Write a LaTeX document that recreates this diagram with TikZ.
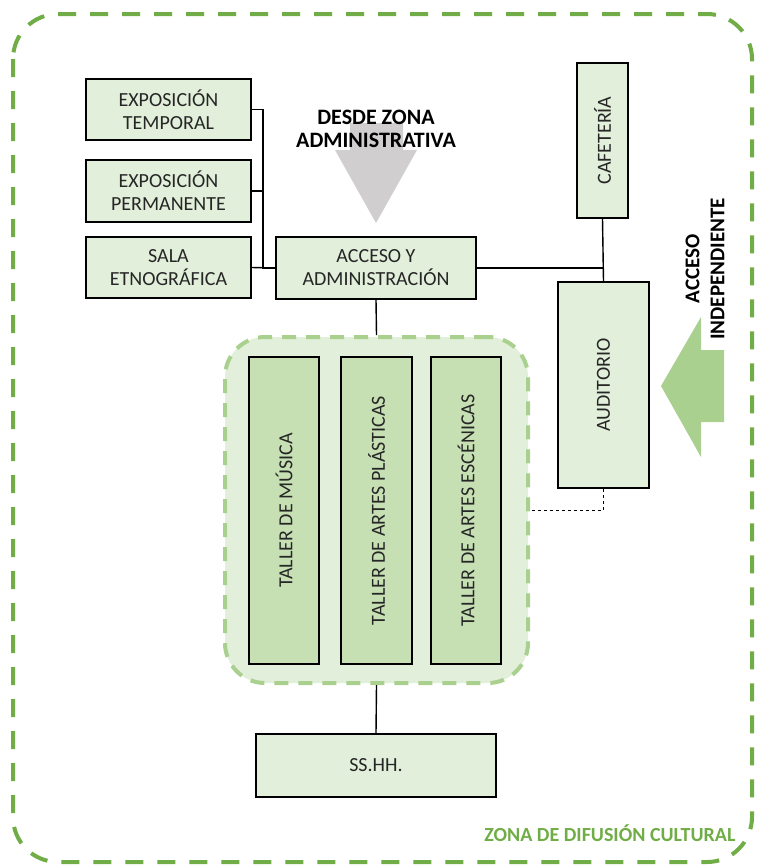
\documentclass[tikz,border=0pt]{standalone}
\usepackage{fontspec}
\setmainfont{Carlito}
\usepackage{graphicx}
\usetikzlibrary{positioning}

\definecolor{roomfill}{HTML}{E2EFDA}
\definecolor{tallerfill}{HTML}{C6E0B4}
\definecolor{groupdash}{HTML}{A9D08E}
\definecolor{zonegreen}{HTML}{70AD47}
\definecolor{arrowgray}{HTML}{D0CECE}

\begin{document}
\begin{tikzpicture}[x=1pt, y=-1pt,
    room/.style={draw, line width=1.5pt, fill=roomfill, align=center, inner sep=0pt,
      text=black!85, font=\fontsize{20}{23}\selectfont},
    taller/.style={room, fill=tallerfill},
    link/.style={line width=1.4pt},
    boldtext/.style={align=center, font=\fontsize{22}{23}\selectfont\bfseries}]
                \useasboundingbox (0,0) rectangle (757,865);

                % Zone frame
                \draw[zonegreen, line width=4pt, dash pattern=on 18pt off 14pt, rounded corners=45pt]
                    (13,14) rectangle (752,862);
                \node[boldtext, text=zonegreen, anchor=east, font=\fontsize{20}{23}\selectfont\bfseries] (zona) at (739,833) {ZONA DE DIFUSIÓN CULTURAL};

                % Access arrows
                \fill[arrowgray] (350,123) -- (403,123) -- (403,150) -- (417,150) -- (376,223)
                    -- (335,150) -- (350,150) -- cycle;
                \node[boldtext] (desde) at (376,129) {DESDE ZONA\\ADMINISTRATIVA};
                \fill[groupdash] (661,386) -- (701,317) -- (701,350) -- (724,350) -- (724,422)
                    -- (701,422) -- (701,457) -- cycle;
                \node[boldtext, rotate=90, font=\fontsize{21}{25}\selectfont\bfseries] (independiente) at (705,269) {ACCESO\\INDEPENDIENTE};

                % Components
                \node[room, minimum width=165pt, minimum height=61pt] (temporal) at (168.5,109.5) {EXPOSICIÓN\\TEMPORAL};
                \node[room, minimum width=165pt, minimum height=62pt] (permanente) at (168.5,191) {EXPOSICIÓN\\PERMANENTE};
                \node[room, minimum width=165pt, minimum height=61pt] (sala) at (168.5,267.5) {SALA\\ETNOGRÁFICA};
                \node[room, minimum width=200pt, minimum height=62pt] (acceso) at (376,268) {ACCESO Y\\ADMINISTRACIÓN};
                \node[room, minimum width=51pt, minimum height=155pt] (cafeteria) at (602.5,140.5) {\rotatebox{90}{CAFETERÍA}};
                \node[room, minimum width=91pt, minimum height=206pt] (auditorio) at (603.5,385) {\rotatebox{90}{AUDITORIO}};

                % Talleres
                \node[draw=groupdash, fill=roomfill, line width=4pt, dash pattern=on 14pt off 10pt,
                    rounded corners=40pt, minimum width=303pt, minimum height=346pt] (talleres) at (376.5,510) {};
                \node[taller, minimum width=70pt, minimum height=307pt] (musica) at (284,510.5) {\rotatebox{90}{TALLER DE MÚSICA}};
                \node[taller, minimum width=71pt, minimum height=307pt] (plasticas) at (376.5,510.5) {\rotatebox{90}{TALLER DE ARTES PLÁSTICAS}};
                \node[taller, minimum width=70pt, minimum height=307pt] (escenicas) at (466,510.5) {\rotatebox{90}{TALLER DE ARTES ESCÉNICAS}};
                \node[room, minimum width=240pt, minimum height=63pt] (sshh) at (376,765.5) {SS.HH.};

                % Connections
                \coordinate (bus) at (263,268);
                \draw[link] (temporal.east) -| (bus) -- (acceso.west);
                \draw[link] (permanente.east) -| (bus);
                \draw[link] (sala.east) -- (acceso.west);
                \draw[link] (acceso.east) -- (acceso.east -| cafeteria.south);
                \draw[link] (cafeteria.south) -- (auditorio.north);
                \draw[link] (acceso.south) -- (talleres.north);
                \draw[link] (talleres.south) -- (sshh.north);
                \draw[link, line width=1pt, dashed] (auditorio.south) |- (talleres.east);
            \end{tikzpicture}
\end{document}
